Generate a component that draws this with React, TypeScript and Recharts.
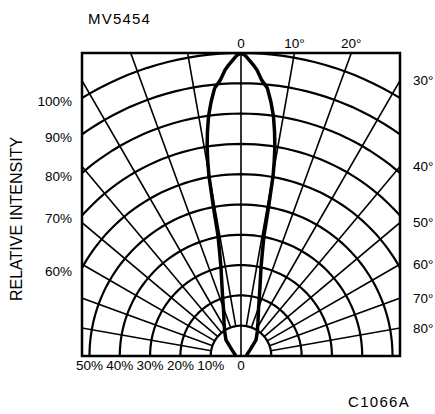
import React from 'react';
import { ComposedChart, Line, XAxis, YAxis, ReferenceArea } from 'recharts';

// grid levels (relative intensity, %) and spoke angles (deg from axis)
const ringLevels = [10, 20, 30, 40, 50, 60, 70, 80, 90, 100];
const spokeAngles = [-80, -70, -60, -50, -40, -30, -20, -10, 10, 20, 30, 40, 50, 60, 70, 80];

// radiation pattern (one half, mirrored)
const patternAngles = [0, 0.8, 1.6, 2.4, 3.2, 4.3, 5.6, 6.7, 7.7, 8.5, 9.2, 9.7, 10.1, 10.5, 10.8, 11.6, 12.7, 14.5, 16.9, 20.5, 26.6, 34, 43, 56, 72, 90];
const patternIntensity = [100, 99.2, 97.7, 96.2, 94.5, 91.3, 88.9, 84.5, 79.9, 74.9, 69.9, 65, 60.3, 49.7, 40.6, 35.2, 30.1, 25.4, 21, 16.5, 12.5, 9.6, 7.3, 3.6, 2.2, 1.8];

// tick labels
const leftLevels = [100, 90, 80, 70, 60];
const bottomLevels = [50, 40, 30, 20, 10, 0];
const topAngles = [0, 10, 20];
const rightAngles = [30, 40, 50, 60, 70, 80];

const HALF = 52.47; // half width of the frame, in % units
const TOP = 100;

const rad = (d: number) => (d * Math.PI) / 180;
const deg = (r: number) => (r * 180) / Math.PI;
const polar = (a: number, r: number) => ({ x: r * Math.sin(rad(a)), y: r * Math.cos(rad(a)) });

const arc = (r: number) => {
  const pts = [];
  for (let a = -90; a <= 90; a += 2) pts.push(polar(a, r));
  return pts;
};

const rings = ringLevels.map((r) => ({ r, pts: arc(r) }));
const spokes = spokeAngles.map((a) => ({ a, pts: [polar(a, 10), polar(a, 160)] }));
const centerSpoke = [polar(0, 0), polar(0, TOP)];

const pattern = [
  ...patternAngles.map((a, i) => polar(-a, patternIntensity[i])).reverse(),
  ...patternAngles.slice(1).map((a, i) => polar(a, patternIntensity[i + 1])),
];

const font = '"Liberation Sans", Arial, Helvetica, sans-serif';
const tickStyle = { fontFamily: font, fontSize: 13.5, fill: '#000' };
const leftTickStyle = { ...tickStyle, dy: 3 };

export default function App() {
  return (
    <div style={{ position: 'absolute', left: 0, top: 0, width: 435, height: 414, background: '#fff', fontFamily: font }}>
      <ComposedChart width={435} height={414} margin={{ top: 0, right: 0, bottom: 0, left: 0 }}>
        <XAxis
          xAxisId="b"
          type="number"
          dataKey="x"
          orientation="bottom"
          domain={[-HALF, HALF]}
          allowDataOverflow
          height={58}
          ticks={bottomLevels.map((v) => -v)}
          tickFormatter={(v: number) => (v === 0 ? '0' : `${Math.abs(v)}%`)}
          interval={0}
          axisLine={false}
          tickLine={false}
          tickSize={0}
          tickMargin={4}
          tick={tickStyle}
        />
        <XAxis
          xAxisId="t"
          type="number"
          dataKey="x"
          orientation="top"
          domain={[-HALF, HALF]}
          allowDataOverflow
          height={53}
          ticks={topAngles.map((a) => TOP * Math.tan(rad(a)))}
          tickFormatter={(v: number) => {
            const a = Math.round(deg(Math.atan(v / TOP)));
            return a === 0 ? '0' : `${a}°`;
          }}
          interval={0}
          axisLine={false}
          tickLine={false}
          tickSize={0}
          tickMargin={5}
          tick={tickStyle}
        />
        <YAxis
          yAxisId="l"
          type="number"
          orientation="left"
          domain={[0, TOP]}
          allowDataOverflow
          width={82}
          ticks={leftLevels.map((r) => Math.sqrt(r * r - HALF * HALF))}
          tickFormatter={(v: number) => `${Math.round(Math.sqrt(v * v + HALF * HALF))}%`}
          interval={0}
          axisLine={false}
          tickLine={false}
          tickSize={0}
          tickMargin={10}
          tick={leftTickStyle}
        />
        <YAxis
          yAxisId="r"
          type="number"
          orientation="right"
          domain={[0, TOP]}
          allowDataOverflow
          width={35}
          ticks={rightAngles.map((a) => HALF / Math.tan(rad(a)))}
          tickFormatter={(v: number) => `${Math.round(deg(Math.atan(HALF / v)))}°`}
          interval={0}
          axisLine={false}
          tickLine={false}
          tickSize={0}
          tickMargin={13}
          tick={tickStyle}
        />

        {rings.map((g) => (
          <Line
            key={`ring-${g.r}`}
            data={g.pts}
            dataKey="y"
            xAxisId="b"
            yAxisId="l"
            type="linear"
            stroke="#000"
            strokeWidth={2.2}
            dot={false}
            isAnimationActive={false}
          />
        ))}
        {spokes.map((s) => (
          <Line
            key={`spoke-${s.a}`}
            data={s.pts}
            dataKey="y"
            xAxisId="b"
            yAxisId="l"
            type="linear"
            stroke="#000"
            strokeWidth={1.6}
            dot={false}
            isAnimationActive={false}
          />
        ))}
        <Line
          data={centerSpoke}
          dataKey="y"
          xAxisId="b"
          yAxisId="l"
          type="linear"
          stroke="#000"
          strokeWidth={1.6}
          dot={false}
          isAnimationActive={false}
        />
        <Line
          data={pattern}
          dataKey="y"
          xAxisId="b"
          yAxisId="l"
          type="linear"
          stroke="#000"
          strokeWidth={3.5}
          strokeLinejoin="round"
          dot={false}
          isAnimationActive={false}
        />
        <ReferenceArea
          xAxisId="b"
          yAxisId="l"
          x1={-HALF}
          x2={HALF}
          y1={0}
          y2={TOP}
          fill="none"
          fillOpacity={0}
          stroke="#000"
          strokeWidth={2.5}
          ifOverflow="visible"
        />
      </ComposedChart>

      <div style={{ position: 'absolute', left: 88, top: 11, fontSize: 15, lineHeight: 1, letterSpacing: 1.2, color: '#000' }}>
        MV5454
      </div>
      <div style={{ position: 'absolute', left: 348, top: 394, fontSize: 15, lineHeight: 1, letterSpacing: 1.3, color: '#000' }}>
        C1066A
      </div>
      <div
        style={{
          position: 'absolute',
          left: 16.5,
          top: 219,
          transform: 'translate(-50%, -50%) rotate(-90deg)',
          fontSize: 16,
          lineHeight: 1,
          whiteSpace: 'nowrap',
          color: '#000',
        }}
      >
        RELATIVE INTENSITY
      </div>
    </div>
  );
}
